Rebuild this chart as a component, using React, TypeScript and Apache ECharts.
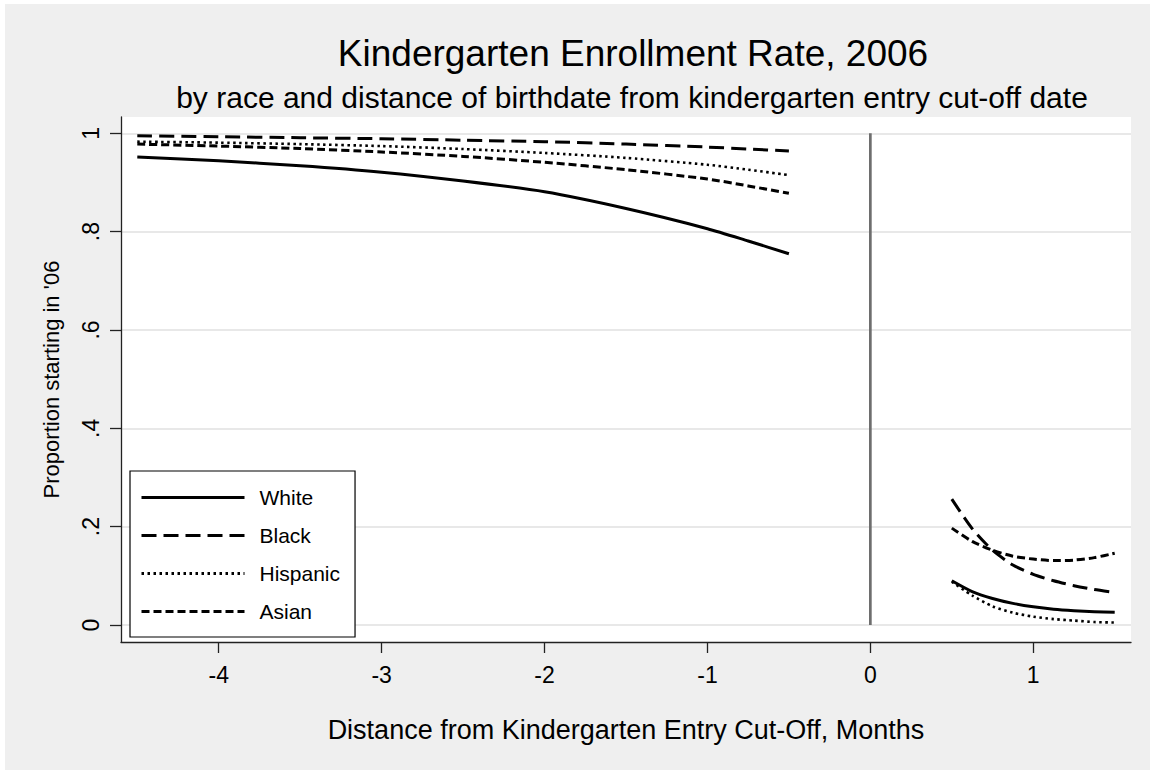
import React, { useEffect, useRef } from "react";
import * as echarts from "echarts";

const TITLE = "Kindergarten Enrollment Rate, 2006";
const SUBTITLE = "by race and distance of birthdate from kindergarten entry cut-off date";
const X_TITLE = "Distance from Kindergarten Entry Cut-Off, Months";
const Y_TITLE = "Proportion starting in '06";

const xLeft = [-4.5, -4, -3.5, -3, -2.5, -2, -1.5, -1, -0.75, -0.5];
const xRight = [0.5, 0.625, 0.75, 0.875, 1, 1.125, 1.25, 1.375, 1.5];

const whiteLeft = [0.952, 0.944, 0.934, 0.921, 0.903, 0.881, 0.847, 0.806, 0.781, 0.755];
const blackLeft = [0.995, 0.993, 0.991, 0.989, 0.986, 0.983, 0.978, 0.972, 0.968, 0.964];
const hispanicLeft = [0.983, 0.981, 0.978, 0.974, 0.968, 0.96, 0.95, 0.936, 0.926, 0.915];
const asianLeft = [0.978, 0.974, 0.969, 0.962, 0.953, 0.941, 0.926, 0.907, 0.893, 0.878];

const whiteRight = [0.09, 0.068, 0.054, 0.044, 0.037, 0.032, 0.029, 0.027, 0.026];
const blackRight = [0.256, 0.196, 0.152, 0.122, 0.103, 0.09, 0.08, 0.072, 0.066];
const hispanicRight = [0.088, 0.06, 0.038, 0.025, 0.017, 0.012, 0.009, 0.006, 0.005];
const asianRight = [0.197, 0.17, 0.152, 0.14, 0.134, 0.131, 0.132, 0.137, 0.146];

const yTicks = [0, 0.2, 0.4, 0.6, 0.8, 1];
const yTickLabels = ["0", ".2", ".4", ".6", ".8", "1"];
const xTicks = [-4, -3, -2, -1, 0, 1];
const cutoffLine = [[0, 0], [0, 1]];

const FONT = "'Liberation Sans', Arial, Helvetica, sans-serif";

function build(left: number[], right: number[]) {
  return [
    ...xLeft.map((x, i) => [x, left[i]]),
    [0, "-"],
    ...xRight.map((x, i) => [x, right[i]]),
  ];
}

export default function App() {
  const ref = useRef<HTMLDivElement>(null);
  useEffect(() => {
    document.body.style.margin = "0";
    const chart = echarts.init(ref.current!, undefined, { renderer: "svg" });
    const xMin = -4.6;
    const xMax = 1.6;
    const lineSeries = (name: string, data: any[], type: any, width: number) => ({
      type: "line",
      name,
      xAxisIndex: 1,
      yAxisIndex: 1,
      data,
      symbol: "none",
      smooth: 0.25,
      connectNulls: false,
      lineStyle: { color: "#000", width, type, cap: "butt", join: "round" },
      itemStyle: { color: "#000" },
      z: 5,
    });
    chart.setOption({
      animation: false,
      backgroundColor: "#efefef",
      textStyle: { fontFamily: FONT },
      graphic: [
        {
          type: "text",
          x: 628,
          y: 49,
          style: { text: TITLE, font: `37px ${FONT}`, fill: "#000", align: "center", verticalAlign: "middle" },
        },
        {
          type: "text",
          x: 627,
          y: 93,
          style: { text: SUBTITLE, font: `30px ${FONT}`, fill: "#000", align: "center", verticalAlign: "middle" },
        },
      ],
      grid: [
        { left: 116, right: 19, top: 113, bottom: 128, show: true, backgroundColor: "#fff", borderWidth: 0 },
        { left: 116, right: 19, top: 129.3, bottom: 145, show: false },
      ],
      xAxis: [
        {
          gridIndex: 0,
          type: "value",
          min: xMin,
          max: xMax,
          axisLine: { show: true, onZero: false, lineStyle: { color: "#222", width: 1.3 } },
          axisTick: { show: false },
          axisLabel: { show: false },
          splitLine: { show: false },
          name: X_TITLE,
          nameLocation: "middle",
          nameGap: 74,
          nameTextStyle: { fontSize: 27, color: "#000", fontFamily: FONT },
        },
        {
          gridIndex: 1,
          type: "value",
          min: xMin,
          max: xMax,
          offset: 17,
          axisLine: { show: false, onZero: false },
          axisTick: { show: true, length: 11, customValues: xTicks, lineStyle: { color: "#222", width: 1.3 } },
          axisLabel: { show: true, customValues: xTicks, fontSize: 23, color: "#000", margin: 21, fontFamily: FONT },
          splitLine: { show: false },
        },
      ],
      yAxis: [
        {
          gridIndex: 0,
          type: "value",
          min: 0,
          max: 1,
          axisLine: { show: true, onZero: false, lineStyle: { color: "#222", width: 1.3 } },
          axisTick: { show: false },
          axisLabel: { show: false },
          splitLine: { show: false },
          name: Y_TITLE,
          nameLocation: "middle",
          nameRotate: 90,
          nameGap: 59,
          nameTextStyle: { fontSize: 22, color: "#000", fontFamily: FONT },
        },
        {
          gridIndex: 1,
          type: "value",
          min: 0,
          max: 1,
          interval: 0.2,
          axisLine: { show: false, onZero: false },
          axisTick: { show: true, length: 11, lineStyle: { color: "#222", width: 1.3 } },
          axisLabel: {
            show: true,
            rotate: 90,
            fontSize: 23,
            color: "#000",
            margin: 19,
            fontFamily: FONT,
            formatter: (v: number) => {
              const i = yTicks.findIndex((t) => Math.abs(t - v) < 1e-6);
              return i >= 0 ? yTickLabels[i] : "";
            },
          },
          splitLine: { show: true, lineStyle: { color: "#e8e8e8", width: 2 } },
        },
      ],
      legend: {
        orient: "vertical",
        left: 125,
        top: 467,
        backgroundColor: "#fff",
        borderColor: "#000",
        borderWidth: 1.2,
        borderRadius: 0,
        padding: [16, 15, 15, 10],
        itemWidth: 103,
        itemHeight: 20,
        itemGap: 17,
        data: ["White", "Black", "Hispanic", "Asian"],
        textStyle: { fontSize: 21, color: "#000", fontFamily: FONT, padding: [0, 0, 0, 10], lineHeight: 20 },
        itemStyle: { color: "transparent", borderColor: "transparent", borderWidth: 0, opacity: 0 },
        lineStyle: { width: 3, opacity: 1 },
        selectedMode: false,
      },
      series: [
        {
          type: "line",
          name: "cutoff",
          xAxisIndex: 1,
          yAxisIndex: 1,
          data: cutoffLine,
          symbol: "none",
          silent: true,
          lineStyle: { color: "#6e6e6e", width: 2.7 },
          z: 3,
        },
        lineSeries("White", build(whiteLeft, whiteRight), "solid", 3),
        lineSeries("Black", build(blackLeft, blackRight), [15, 7], 3),
        lineSeries("Hispanic", build(hispanicLeft, hispanicRight), [2.5, 3.5], 2.6),
        lineSeries("Asian", build(asianLeft, asianRight), [8, 4], 3),
      ],
    });
    return () => chart.dispose();
  }, []);
  return (
    <div style={{ width: 1150, height: 770, background: "#fff", position: "relative", overflow: "hidden" }}>
      <div ref={ref} style={{ position: "absolute", left: 5, top: 4, width: 1145, height: 766 }} />
    </div>
  );
}
